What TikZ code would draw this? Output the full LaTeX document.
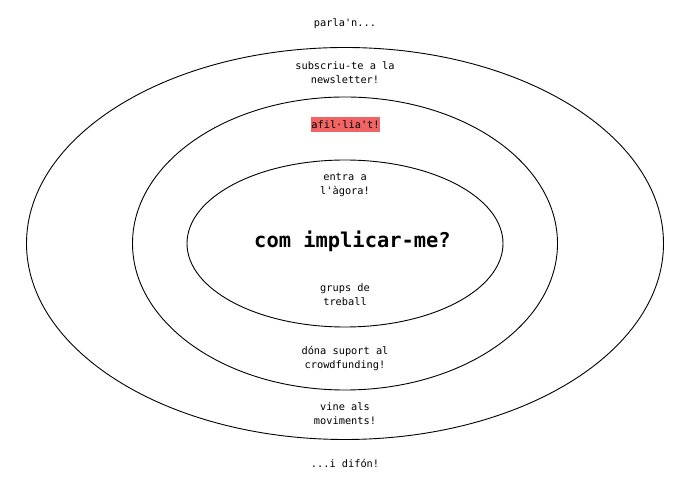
\documentclass[tikz,border=0pt]{standalone}
\usepackage{fontspec}
\setmonofont{DejaVu Sans Mono}
\definecolor{salmo}{RGB}{240,100,100}

\begin{document}
\begin{tikzpicture}[x=1pt,y=1pt,
    lbl/.style={font=\ttfamily\fontsize{10.3}{14}\selectfont,align=center,inner sep=0pt},
    ring/.style={draw=black,line width=0.9pt}]
      \useasboundingbox (0,0) rectangle (690,487);
      \coordinate (c) at (345,243.5);
      \draw[ring] (c) ellipse [x radius=318.5,y radius=196];
      \draw[ring] (c) ellipse [x radius=212.5,y radius=146.5];
      \draw[ring] (c) ellipse [x radius=158,y radius=83.5];

      \node[lbl] (parla) at (345,463) {parla'n...};
      \node[lbl] (news) at (345,414) {subscriu-te a la\\newsletter!};
      \node[lbl,fill=salmo,inner xsep=0.5pt,minimum height=14.4pt] (afil) at (345.5,362.5) {afil·lia't!};
      \node[lbl] (agora) at (345,302.5) {entra a\\l'àgora!};
      \node[font=\ttfamily\bfseries\fontsize{20.4}{24}\selectfont,inner sep=0pt] (titol) at (352.5,245.5) {com implicar-me?};
      \node[lbl] (grups) at (345,192.5) {grups de\\treball};
      \node[lbl] (crowd) at (345,129) {dóna suport al\\crowdfunding!};
      \node[lbl] (movs) at (345,73) {vine als\\moviments!};
      \node[lbl] (difon) at (345,24) {...i difón!};
    \end{tikzpicture}
\end{document}
